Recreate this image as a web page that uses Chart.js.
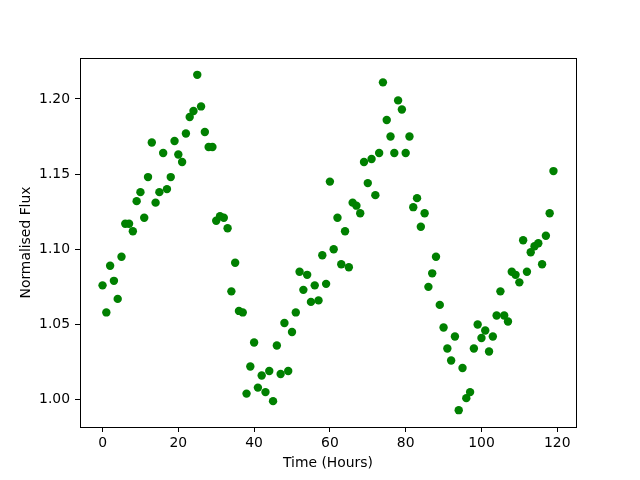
<!DOCTYPE html>
<html>
<head>
<meta charset="utf-8">
<script src="https://cdn.jsdelivr.net/npm/chart.js@4/dist/chart.umd.min.js"></script>
<style>
  body { margin: 0; background: #fff; }
  canvas { display: block; }
</style>
</head>
<body>
<canvas id="scatter-chart" width="640" height="480"></canvas>
<script>
// hours since start of observation
var hours = [];
for (var h = 0; h < 120; h++) hours.push(h);

// normalised flux
var flux = [
    1.076, 1.058, 1.089, 1.079, 1.067, 1.095, 1.117, 1.117, 1.112, 1.132,
    1.138, 1.121, 1.148, 1.171, 1.131, 1.138, 1.164, 1.140, 1.148, 1.172,
    1.163, 1.158, 1.177, 1.188, 1.192, 1.216, 1.195, 1.178, 1.168, 1.168,
    1.119, 1.122, 1.121, 1.114, 1.072, 1.091, 1.059, 1.058, 1.004, 1.022,
    1.038, 1.008, 1.016, 1.005, 1.019, 0.999, 1.036, 1.017, 1.051, 1.019,
    1.045, 1.058, 1.085, 1.073, 1.083, 1.065, 1.076, 1.066, 1.096, 1.077,
    1.145, 1.100, 1.121, 1.090, 1.112, 1.088, 1.131, 1.129, 1.124, 1.158,
    1.144, 1.160, 1.136, 1.164, 1.211, 1.186, 1.175, 1.164, 1.199, 1.193,
    1.164, 1.175, 1.128, 1.134, 1.115, 1.124, 1.075, 1.084, 1.095, 1.063,
    1.048, 1.034, 1.026, 1.042, 0.993, 1.021, 1.001, 1.005, 1.034, 1.050,
    1.041, 1.046, 1.032, 1.042, 1.056, 1.072, 1.056, 1.052, 1.085, 1.083,
    1.078, 1.106, 1.085, 1.098, 1.102, 1.104, 1.090, 1.109, 1.124, 1.152
];

var xTicks = [0, 20, 40, 60, 80, 100, 120];
var yTicks = [1.00, 1.05, 1.10, 1.15, 1.20];

var points = [];
for (var i = 0; i < hours.length; i++) {
    points.push({x: hours[i], y: flux[i]});
}

// draws the top and right spines, matplotlib style
var boxPlugin = {
    id: 'box',
    afterDraw: function(chart) {
        var a = chart.chartArea;
        var ctx = chart.ctx;
        ctx.save();
        ctx.strokeStyle = '#000';
        ctx.lineWidth = 1;
        ctx.strokeRect(a.left + 0.5, a.top + 0.5, a.right - a.left, a.bottom - a.top);
        ctx.restore();
    }
};

Chart.defaults.font.family = '"DejaVu Sans", sans-serif';
Chart.defaults.font.size = 13.9;
Chart.defaults.color = '#000';

new Chart(document.getElementById('scatter-chart'), {
    type: 'scatter',
    data: {
        datasets: [{
            data: points,
            backgroundColor: '#008000',
            borderWidth: 0,
            pointRadius: 4.2,
            pointHoverRadius: 4.2
        }]
    },
    options: {
        responsive: false,
        animation: false,
        layout: {
            padding: {top: 58, right: 64, bottom: 0, left: 0}
        },
        plugins: {
            legend: {display: false},
            tooltip: {enabled: false}
        },
        scales: {
            x: {
                type: 'linear',
                min: -5.95,
                max: 124.95,
                afterBuildTicks: function(scale) {
                    scale.ticks = xTicks.map(function(v) { return {value: v}; });
                },
                afterFit: function(scale) { scale.height = 53; },
                grid: {drawOnChartArea: false, drawTicks: true, tickLength: 5, tickColor: '#000'},
                border: {color: '#000', width: 1},
                ticks: {autoSkip: false, maxRotation: 0, padding: 3},
                title: {display: true, text: 'Time (Hours)', padding: {top: 0, bottom: 8}}
            },
            y: {
                type: 'linear',
                min: 0.9818,
                max: 1.2272,
                afterBuildTicks: function(scale) {
                    scale.ticks = yTicks.map(function(v) { return {value: v}; });
                },
                afterFit: function(scale) { scale.width = 80; },
                grid: {drawOnChartArea: false, drawTicks: true, tickLength: 5, tickColor: '#000'},
                border: {color: '#000', width: 1},
                ticks: {
                    autoSkip: false,
                    padding: 5,
                    callback: function(v) { return v.toFixed(2); }
                },
                title: {display: true, text: 'Normalised Flux', padding: {top: 18, bottom: 0}}
            }
        }
    },
    plugins: [boxPlugin]
});
</script>
</body>
</html>
